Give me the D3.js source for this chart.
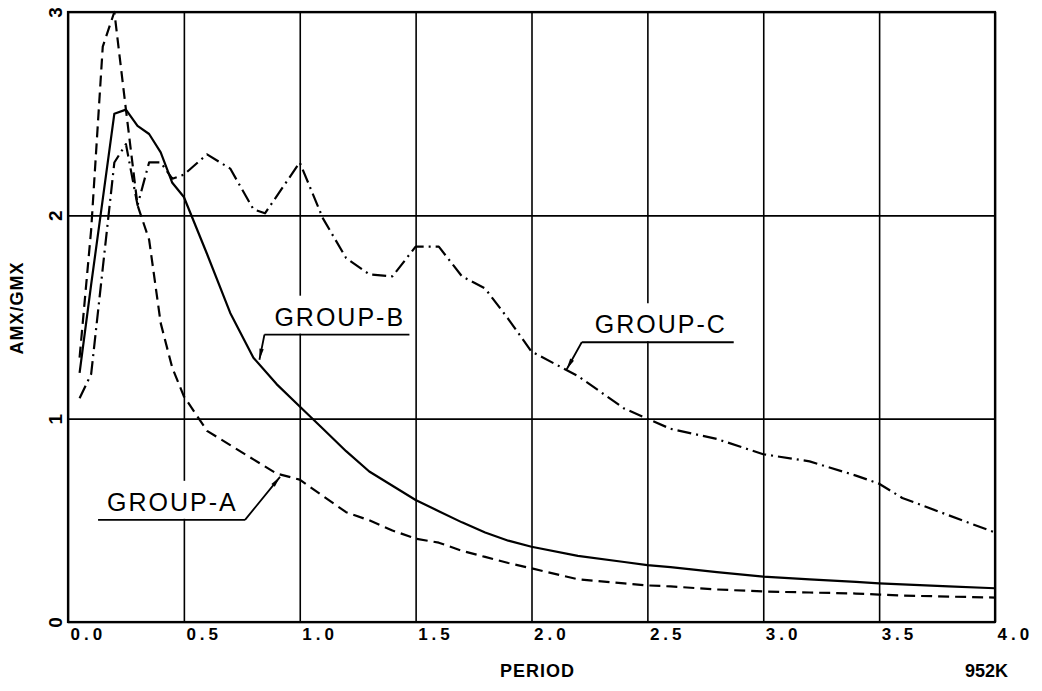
<!DOCTYPE html>
<html>
<head>
<meta charset="utf-8">
<script src="https://cdn.jsdelivr.net/npm/d3@7/dist/d3.min.js"></script>
<style>
  html, body { margin: 0; padding: 0; background: #fff; }
  svg { display: block; }
  .tick-label { font-family: "Liberation Sans", Arial, sans-serif; font-weight: bold; font-size: 17px; fill: #000; }
  .y-tick { font-size: 19px; }
  .axis-title { font-family: "Liberation Sans", Arial, sans-serif; font-weight: bold; font-size: 18px; fill: #000; }
  .group-label { font-family: "Liberation Sans", Arial, sans-serif; font-size: 25px; letter-spacing: 2px; fill: #000; }
</style>
</head>
<body>
<svg id="chart"></svg>
<script>
// ---- data ----
const periodsAB = [0.05, 0.1, 0.15, 0.2, 0.25, 0.3, 0.35, 0.4, 0.45, 0.5,
    0.6, 0.7, 0.8, 0.9, 1.0, 1.1, 1.2, 1.3, 1.4, 1.5, 1.6, 1.7, 1.8, 1.9,
    2.0, 2.2, 2.4, 2.5, 2.6, 2.8, 3.0, 3.2, 3.4, 3.5, 3.6, 3.8, 4.0];

const groupA = [1.30, 1.93, 2.83, 3.00, 2.52, 2.05, 1.88, 1.47, 1.25, 1.11,
    0.94, 0.87, 0.80, 0.73, 0.70, 0.62, 0.54, 0.50, 0.45, 0.41, 0.39, 0.35, 0.32, 0.29,
    0.264, 0.21, 0.19, 0.18, 0.175, 0.16, 0.15, 0.145, 0.14, 0.135, 0.13, 0.125, 0.12];

const groupB = [1.225, 1.66, 2.08, 2.50, 2.52, 2.44, 2.40, 2.31, 2.16, 2.09,
    1.81, 1.52, 1.30, 1.17, 1.06, 0.95, 0.84, 0.74, 0.67, 0.60, 0.545, 0.49, 0.44, 0.40,
    0.37, 0.325, 0.295, 0.28, 0.27, 0.245, 0.223, 0.21, 0.197, 0.19, 0.185, 0.175, 0.166];

const periodsC = [0.05, 0.1, 0.15, 0.2, 0.25, 0.3, 0.35, 0.4, 0.45, 0.5,
    0.6, 0.7, 0.8, 0.85, 1.0, 1.1, 1.2, 1.3, 1.4, 1.5, 1.6, 1.7, 1.8, 1.9,
    2.0, 2.2, 2.4, 2.5, 2.6, 2.8, 3.0, 3.2, 3.4, 3.5, 3.6, 3.8, 4.0];

const groupC = [1.10, 1.22, 1.74, 2.26, 2.35, 2.05, 2.26, 2.26, 2.18, 2.20,
    2.30, 2.23, 2.03, 2.01, 2.26, 1.985, 1.79, 1.71, 1.70, 1.846, 1.846, 1.70, 1.64, 1.49,
    1.33, 1.21, 1.05, 1.00, 0.95, 0.90, 0.825, 0.79, 0.72, 0.68, 0.61, 0.525, 0.44];

const xTicks = [0, 0.5, 1.0, 1.5, 2.0, 2.5, 3.0, 3.5, 4.0];
const yTicks = [0, 1, 2, 3];

// label name, point on the curve it points to (data units)
const labelNames  = ['GROUP-A', 'GROUP-B', 'GROUP-C'];
const labelPeriod = [0.915, 0.826, 2.152];
const labelValue  = [0.714, 1.29, 1.243];

// ---- layout ----
const W = 1042, H = 691;
const MARGIN = { top: 12, right: 47, bottom: 69, left: 68 };
const innerW = W - MARGIN.left - MARGIN.right;
const innerH = H - MARGIN.top - MARGIN.bottom;

const svg = d3.select('#chart').attr('width', W).attr('height', H);
const g = svg.append('g').attr('transform', `translate(${MARGIN.left},${MARGIN.top})`);

const x = d3.scaleLinear().domain([0, 4]).range([0, innerW]);
const y = d3.scaleLinear().domain([0, 3]).range([innerH, 0]);

/**
 * Grid + tick labels along the bottom.
 */
function axisX() {
    const ax = d3.axisBottom(x).tickValues(xTicks).tickSize(-innerH).tickPadding(0)
        .tickFormat(d3.format('.1f'));
    g.append('g')
        .attr('transform', `translate(0,${innerH})`)
        .call(ax)
        .call(a => a.select('.domain').remove())
        .call(a => a.selectAll('.tick line').attr('stroke', '#000').attr('stroke-width', 1.6))
        .call(a => a.selectAll('.tick text')
            .attr('class', 'tick-label')
            .attr('x', 2).attr('y', 18).attr('dy', 0)
            .attr('text-anchor', 'start')
            .style('letter-spacing', '4px'));
}

/**
 * Grid + rotated tick labels on the left.
 */
function axisY() {
    const ax = d3.axisLeft(y).tickValues(yTicks).tickSize(-innerW).tickFormat(d3.format('d'));
    g.append('g')
        .call(ax)
        .call(a => a.select('.domain').remove())
        .call(a => a.selectAll('.tick line').attr('stroke', '#000').attr('stroke-width', 1.6))
        .call(a => a.selectAll('.tick text')
            .attr('class', 'tick-label y-tick')
            .attr('x', null).attr('dy', null)
            .attr('text-anchor', 'middle')
            .attr('transform', 'translate(-6,0) rotate(-90)'));
}

axisX();
axisY();

// frame
g.append('rect')
    .attr('x', 0).attr('y', 0).attr('width', innerW).attr('height', innerH)
    .attr('fill', 'none').attr('stroke', '#000').attr('stroke-width', 2.2);

// axis titles
svg.append('text').attr('class', 'axis-title')
    .attr('transform', `translate(23,${MARGIN.top + innerH / 2 - 9}) rotate(-90)`)
    .attr('text-anchor', 'middle').style('letter-spacing', '1px')
    .text('AMX/GMX');
svg.append('text').attr('class', 'axis-title')
    .attr('x', 500).attr('y', 677).style('letter-spacing', '1px')
    .text('PERIOD');
svg.append('text').attr('class', 'axis-title')
    .attr('x', 965).attr('y', 677)
    .text('952K');

// labels: offsets from the arrow tip to the elbow of the leader, then text
const labelStyle = [
    { dx: -35, dy: 43, textDx: 9,  lineLen: 147 },   // GROUP-A: underline runs left of tip
    { dx: 5,   dy: -25, textDx: 10, lineLen: 145 },
    { dx: 15,  dy: -27, textDx: 13, lineLen: 152 }
];

const labels = g.append('g');
labelNames.forEach((name, i) => {
    const tx = x(labelPeriod[i]), ty = y(labelValue[i]);
    const s = labelStyle[i];
    const ux = tx + s.dx, uy = ty + s.dy;           // elbow of the leader
    const x0 = i === 0 ? ux - s.lineLen : ux;       // underline start
    const x1 = x0 + s.lineLen;

    // white box hides the grid behind the text
    labels.append('rect')
        .attr('x', x0 + 4).attr('y', uy - 39)
        .attr('width', s.lineLen - 8).attr('height', 38)
        .attr('fill', '#fff');

    labels.append('text').attr('class', 'group-label')
        .attr('x', x0 + s.textDx).attr('y', uy - 9)
        .text(name);

    labels.append('path')
        .attr('d', `M${x0},${uy}H${x1}M${ux},${uy}L${tx},${ty}`)
        .attr('fill', 'none').attr('stroke', '#000').attr('stroke-width', 1.8);

    // small arrow head at the tip
    const ang = Math.atan2(ty - uy, tx - ux);
    const len = 11, half = 2.2;
    const bx = tx - len * Math.cos(ang), by = ty - len * Math.sin(ang);
    const nx = -Math.sin(ang) * half, ny = Math.cos(ang) * half;
    labels.append('path')
        .attr('d', `M${tx},${ty}L${bx + nx},${by + ny}L${bx - nx},${by - ny}Z`)
        .attr('fill', '#000');
});

// curves
const line = d3.line().x(d => x(d[0])).y(d => y(d[1]));
const series = [
    { xs: periodsAB, ys: groupA, dash: '11,6' },
    { xs: periodsAB, ys: groupB, dash: null },
    { xs: periodsC,  ys: groupC, dash: '14,5,2,5' }
];
series.forEach(s => {
    g.append('path')
        .datum(d3.zip(s.xs, s.ys))
        .attr('d', line)
        .attr('fill', 'none')
        .attr('stroke', '#000')
        .attr('stroke-width', 2.2)
        .attr('stroke-linejoin', 'round')
        .attr('stroke-dasharray', s.dash);
});
</script>
</body>
</html>
